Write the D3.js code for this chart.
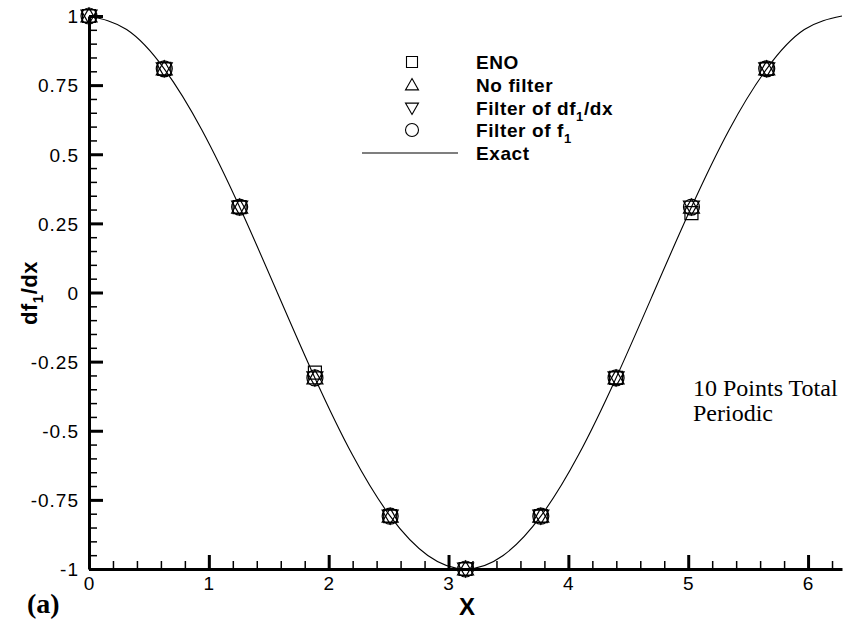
<!DOCTYPE html>
<html>
<script src="https://d3js.org/d3.v7.min.js"></script>
<style>
body { margin: 0; background: #fff; }
</style>
<body>
<svg width="850" height="622"></svg>
<script>
// sample points (10 points, periodic)
var xs      = [0, 0.628, 1.257, 1.885, 2.513, 3.142, 3.770, 4.398, 5.027, 5.655],
    eno     = [1, 0.809, 0.309, -0.290, -0.809, -1, -0.809, -0.309, 0.287, 0.809],
    noFilt  = [1, 0.809, 0.309, -0.309, -0.809, -1, -0.809, -0.309, 0.309, 0.809],
    filtDf  = [1, 0.809, 0.309, -0.309, -0.809, -1, -0.809, -0.309, 0.309, 0.809],
    filtF   = [1, 0.809, 0.309, -0.309, -0.809, -1, -0.809, -0.309, 0.309, 0.809];

// exact curve
var exactX = [0, 0.314, 0.628, 0.942, 1.257, 1.571, 1.885, 2.199, 2.513, 2.827, 3.142,
              3.456, 3.770, 4.084, 4.398, 4.712, 5.027, 5.341, 5.655, 5.969, 6.283],
    exactY = [1, 0.951, 0.809, 0.588, 0.309, 0, -0.309, -0.588, -0.809, -0.951, -1,
              -0.951, -0.809, -0.588, -0.309, 0, 0.309, 0.588, 0.809, 0.951, 1];

var xTicks = [0, 1, 2, 3, 4, 5, 6],
    yTicks = [-1, -0.75, -0.5, -0.25, 0, 0.25, 0.5, 0.75, 1],
    yTickLabels = ["-1", "-0.75", "-0.5", "-0.25", "0", "0.25", "0.5", "0.75", "1"];

var svg = d3.select("svg"),
    x = d3.scaleLinear().domain([0, 6.2832]).range([89, 842]),
    y = d3.scaleLinear().domain([-1, 1]).range([569, 16]);

var font = "Liberation Sans, Arial, Helvetica, sans-serif";

// exact line
var line = d3.line().x(function(d) { return x(d[0]); }).y(function(d) { return y(d[1]); })
             .curve(d3.curveNatural);
svg.append("path")
   .datum(d3.zip(exactX, exactY))
   .attr("d", line)
   .attr("fill", "none").attr("stroke", "#000").attr("stroke-width", 1.1);

// minor ticks
var xMinor = d3.range(0, 6.3, 0.2).filter(function(v) { return Math.abs(v - Math.round(v)) > 1e-6; }),
    yMinor = d3.range(-1, 1.001, 0.05).filter(function(v) { return Math.abs(v * 4 - Math.round(v * 4)) > 1e-6; });

svg.append("g").attr("transform", "translate(0," + y(-1) + ")")
   .call(d3.axisBottom(x).tickValues(xMinor).tickSize(-8).tickFormat(""))
   .call(function(g) { g.select(".domain").remove(); g.selectAll("line").attr("stroke-width", 1.5); });
svg.append("g").attr("transform", "translate(" + x(0) + ",0)")
   .call(d3.axisLeft(y).tickValues(yMinor).tickSize(-8).tickFormat(""))
   .call(function(g) { g.select(".domain").remove(); g.selectAll("line").attr("stroke-width", 1.5); });

// major axes
var xAxis = svg.append("g").attr("transform", "translate(0," + y(-1) + ")")
   .call(d3.axisBottom(x).tickValues(xTicks).tickSizeInner(-14).tickSizeOuter(0).tickPadding(8)
         .tickFormat(d3.format("d")));
var yAxis = svg.append("g").attr("transform", "translate(" + x(0) + ",0)")
   .call(d3.axisLeft(y).tickValues(yTicks).tickSizeInner(-14).tickSizeOuter(0).tickPadding(10)
         .tickFormat(function(d, i) { return yTickLabels[i]; }));
[xAxis, yAxis].forEach(function(g) {
  g.select(".domain").attr("stroke-width", 3);
  g.selectAll(".tick line").attr("stroke-width", 3);
  g.selectAll("text").attr("font-family", font).attr("font-size", 19)
   .attr("letter-spacing", 1).attr("fill", "#000");
});
yAxis.selectAll("text").attr("dy", "0.36em");

// markers
function markerPath(kind, s) {
  var h = s / 2;
  if (kind === "square") return "M" + (-h) + "," + (-h) + "h" + s + "v" + s + "h" + (-s) + "Z";
  if (kind === "up") return "M0," + (-h) + "L" + h + "," + (h * 0.75) + "L" + (-h) + "," + (h * 0.75) + "Z";
  if (kind === "down") return "M0," + h + "L" + h + "," + (-h * 0.75) + "L" + (-h) + "," + (-h * 0.75) + "Z";
  return d3.arc()({innerRadius: 0, outerRadius: h, startAngle: 0, endAngle: 2 * Math.PI});
}

var series = [
  {name: "ENO", kind: "square", vals: eno, size: 13},
  {name: "No filter", kind: "up", vals: noFilt, size: 16},
  {name: "Filter of df1/dx", kind: "down", vals: filtDf, size: 16},
  {name: "Filter of f1", kind: "circle", vals: filtF, size: 16}
];

series.forEach(function(s) {
  svg.append("g").selectAll("path")
     .data(d3.zip(xs, s.vals))
     .join("path")
     .attr("transform", function(d) { return "translate(" + x(d[0]) + "," + y(d[1]) + ")"; })
     .attr("d", markerPath(s.kind, s.size))
     .attr("fill", "none").attr("stroke", "#000").attr("stroke-width", 1.2);
});

// legend
var legRows = [62, 85, 108, 130, 153];
var leg = svg.append("g");
series.forEach(function(s, i) {
  leg.append("path")
     .attr("transform", "translate(412," + legRows[i] + ")")
     .attr("d", markerPath(s.kind, s.kind === "square" ? 11 : 13))
     .attr("fill", "none").attr("stroke", "#000").attr("stroke-width", 1.1);
});
leg.append("line").attr("x1", 362).attr("x2", 458).attr("y1", legRows[4]).attr("y2", legRows[4])
   .attr("stroke", "#000").attr("stroke-width", 1.1);

function legText(i) {
  return leg.append("text").attr("x", 476).attr("y", legRows[i]).attr("dy", "0.36em")
            .attr("font-family", font).attr("font-weight", "bold").attr("font-size", 19)
            .attr("letter-spacing", 0.6);
}
legText(0).text("ENO");
legText(1).text("No filter");
var t2 = legText(2);
t2.append("tspan").text("Filter of df");
t2.append("tspan").attr("font-size", 13).attr("dy", 6).text("1");
t2.append("tspan").attr("dy", -6).text("/dx");
var t3 = legText(3);
t3.append("tspan").text("Filter of f");
t3.append("tspan").attr("font-size", 13).attr("dy", 6).text("1");
legText(4).text("Exact");

// axis titles
svg.append("text").attr("x", 467).attr("y", 615).attr("text-anchor", "middle")
   .attr("font-family", font).attr("font-weight", "bold").attr("font-size", 24).text("X");

var yl = svg.append("text").attr("transform", "translate(37,293) rotate(-90)")
   .attr("text-anchor", "middle")
   .attr("font-family", font).attr("font-weight", "bold").attr("font-size", 22)
   .attr("letter-spacing", 0.5);
yl.append("tspan").text("df");
yl.append("tspan").attr("font-size", 15).attr("dy", 6).text("1");
yl.append("tspan").attr("dy", -6).text("/dx");

// annotations
var serif = "Liberation Serif, Times New Roman, serif";
svg.append("text").attr("x", 693).attr("y", 396).attr("font-family", serif).attr("font-size", 24)
   .text("10 Points Total");
svg.append("text").attr("x", 693).attr("y", 421).attr("font-family", serif).attr("font-size", 24)
   .text("Periodic");
svg.append("text").attr("x", 27).attr("y", 613).attr("font-family", serif).attr("font-weight", "bold")
   .attr("font-size", 28).text("(a)");
</script>
</body>
</html>
